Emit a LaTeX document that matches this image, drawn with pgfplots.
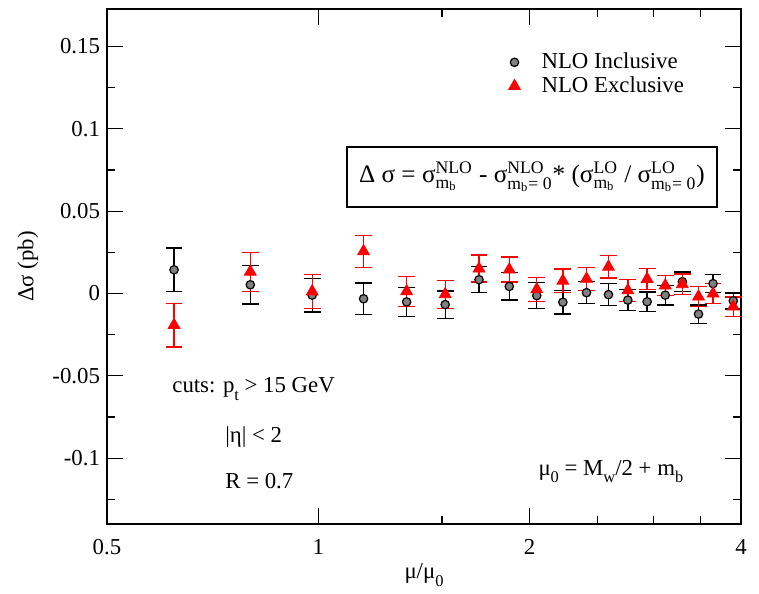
\documentclass[border=0pt]{standalone}
\usepackage{fontspec}
\setmainfont{Liberation Serif}
\usepackage{amsmath}
\usepackage{pgfplots}
\pgfplotsset{compat=1.18}
\usepackage{pgfplotstable}

\newcommand\lsub[1]{\raisebox{-0.33em}{\fontsize{8.2}{9}\selectfont #1}}

\pgfplotstableread{
x y e
0.623 0.0144 0.0132
0.800 0.0053 0.0116
0.980 -0.0010 0.0103
1.160 -0.0032 0.0095
1.336 -0.0051 0.0087
1.516 -0.0067 0.0083
1.694 0.0084 0.0078
1.871 0.0043 0.0083
2.047 -0.0013 0.0078
2.230 -0.0053 0.0071
2.410 0.0005 0.0066
2.590 -0.0007 0.0066
2.760 -0.0040 0.0063
2.940 -0.0050 0.0060
3.120 -0.0010 0.0060
3.300 0.0072 0.0058
3.480 -0.0125 0.0056
3.650 0.0060 0.0056
3.900 -0.0044 0.0050
}\inclusive

\pgfplotstableread{
x y e
0.623 -0.0192 0.0133
0.800 0.0132 0.0118
0.980 0.0012 0.0105
1.160 0.0256 0.0098
1.336 0.0013 0.0090
1.516 -0.0005 0.0085
1.694 0.0151 0.0082
1.871 0.0145 0.0076
2.047 0.0025 0.0074
2.230 0.0077 0.0071
2.410 0.0089 0.0069
2.590 0.0162 0.0067
2.760 0.0019 0.0066
2.940 0.0088 0.0064
3.120 0.0048 0.0062
3.300 0.0056 0.0062
3.480 -0.0019 0.0060
3.650 -0.0001 0.0060
3.900 -0.0080 0.0058
}\exclusive

\begin{document}
\begin{tikzpicture}
\begin{axis}[
  scale only axis, width=317pt, height=257.5pt,
  xmode=log, log basis x=2, xmin=0.5, xmax=4,
  ymin=-0.14, ymax=0.1728,
  xtick={0.5,1,2,4}, xticklabels={0.5,1,2,4},
  extra x ticks={1.5,2.5,3,3.5}, extra x tick labels={},
  extra x tick style={major tick length=4pt},
  ytick={-0.1,-0.05,0,0.05,0.1,0.15},
  yticklabels={-0.1,-0.05,0,0.05,0.1,0.15},
  minor ytick={-0.125,-0.075,-0.025,0.025,0.075,0.125},
  tick align=inside, major tick length=8pt, minor tick length=4pt,
  tick style={line width=0.6pt, black},
  axis line style={line width=0.9pt},
  font=\fontsize{11.4}{13}\selectfont,
  xticklabel style={yshift=-4pt},
  xlabel={μ/μ\lsub{0}},
  ylabel={Δσ (pb)},
  every axis x label/.style={at={(axis description cs:0.5,-0.099)}, anchor=center},
  every axis y label/.style={at={(axis description cs:-0.1246,0.5)}, anchor=center, rotate=90},
  legend image code/.code={\path[draw=none,fill=none] (-3pt,0pt) -- (11.5pt,0pt); \draw[#1] plot coordinates {(0pt,0pt)};},
  legend style={draw=none, fill=none, at={(axis description cs:0.6327,0.9233)}, anchor=north west, inner sep=0pt, row sep=-1.5pt},
  legend cell align=left,
  clip=false,
]
\addplot[only marks, mark=*, mark size=2.1pt, mark options={draw=black, fill=gray, line width=0.6pt},
  error bars/.cd, y dir=both, y explicit,
  error bar style={black, line width=0.65pt},
  error mark options={rotate=90, black, mark size=4.2pt, line width=0.65pt}]
  table[x=x, y=y, y error=e] {\inclusive};
\addplot[only marks, mark=triangle*, mark size=3.4pt, mark options={draw=red, fill=red},
  error bars/.cd, y dir=both, y explicit,
  error bar style={red, line width=0.65pt},
  error mark options={rotate=90, red, mark size=4.2pt, line width=0.65pt}]
  table[x=x, y=y, y error=e] {\exclusive};
\legend{NLO Inclusive, NLO Exclusive}

\node[draw, line width=0.65pt, minimum width=185pt, minimum height=30pt, font=\fontsize{12.6}{15}\selectfont]
  at (axis description cs:0.6703,0.6738)
  {$\text{Δ σ}\text{ = }\text{σ}^{\text{NLO}}_{\text{m}_\text{b}}\text{ - }\text{σ}^{\text{NLO}}_{\text{m}_\text{b}\text{= 0}}\text{* (}\text{σ}^{\text{LO}}_{\text{m}_\text{b}}\text{ / }\text{σ}^{\text{LO}}_{\text{m}_\text{b}\text{= 0}}\text{)}$};

\node[anchor=base west, inner sep=0pt] at (axis description cs:0.1025,0.2544) {cuts: p\lsub{t} > 15 GeV};
\node[anchor=base west, inner sep=0pt] at (axis description cs:0.1861,0.1592) {|η| < 2};
\node[anchor=base west, inner sep=0pt] at (axis description cs:0.1861,0.0699) {R = 0.7};
\node[anchor=base west, inner sep=0pt] at (axis description cs:0.680,0.0951) {μ\lsub{0} = M\lsub{w}/2 + m\lsub{b}};
\end{axis}
\path ([xshift=-53.5pt,yshift=-31.5pt]current axis.south west) rectangle ([xshift=9pt,yshift=4.5pt]current axis.north east);
\end{tikzpicture}
\end{document}
